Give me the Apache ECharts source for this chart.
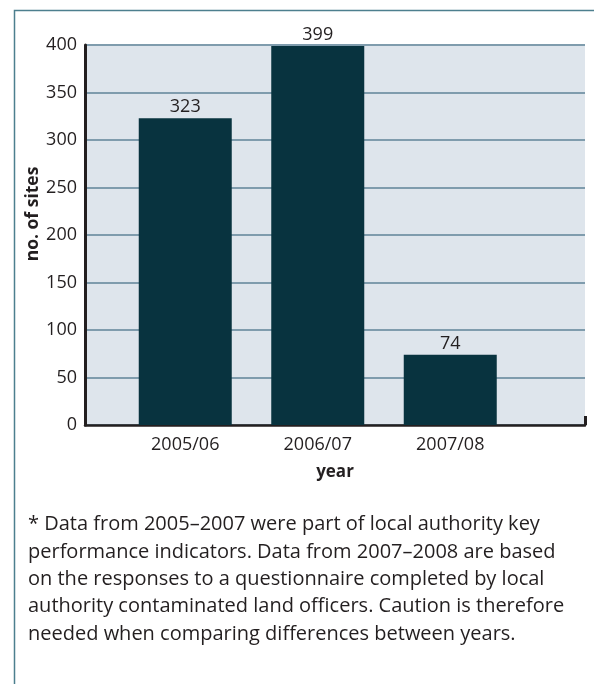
<!DOCTYPE html>
<html>
<head>
<meta charset="utf-8">
<script src="https://cdn.jsdelivr.net/npm/echarts@6/dist/echarts.min.js"></script>
<style>
html,body{margin:0;padding:0;background:#fff;}
#chart{width:594px;height:684px;}
</style>
</head>
<body>
<div id="chart"></div>
<script>
const categories = ['2005/06', '2006/07', '2007/08'];
const sites = [323, 399, 74];
const yTicks = { min: 0, max: 400, interval: 50 };
const yName = 'no. of sites';
const xName = 'year';
const footnote = [
  '* Data from 2005\u20132007 were part of local authority key',
  'performance indicators. Data from 2007\u20132008 are based',
  'on the responses to a questionnaire completed by local',
  'authority contaminated land officers. Caution is therefore',
  'needed when comparing differences between years.'
];

const FONT = '"Open Sans", "Noto Sans", sans-serif';
const TXT = '#231f20';
const chart = echarts.init(document.getElementById('chart'), null, { renderer: 'canvas' });
chart.setOption({
  animation: false,
  backgroundColor: '#ffffff',
  textStyle: { fontFamily: FONT, color: TXT },
  grid: [
    { left: 85, top: 45, width: 500, height: 380, show: true, backgroundColor: '#dee5ec', borderWidth: 0 },
    { left: 119, top: 45, width: 397.5, height: 380, show: false }
  ],
  xAxis: [
    {
      type: 'value', gridIndex: 0, min: 0, max: 1, interval: 1,
      name: xName, nameLocation: 'middle', nameGap: 39,
      nameTextStyle: { fontFamily: FONT, fontSize: 17, fontWeight: 'bold', color: TXT },
      axisLine: { show: true, lineStyle: { color: TXT, width: 2.5 } },
      axisTick: { show: true, inside: true, length: 9, lineStyle: { color: TXT, width: 3 } },
      axisLabel: { show: false },
      splitLine: { show: false }
    },
    {
      type: 'category', gridIndex: 1, data: categories,
      axisLine: { show: false }, axisTick: { show: false },
      axisLabel: { fontFamily: FONT, fontSize: 18, color: TXT, margin: 11 },
      splitLine: { show: false }
    }
  ],
  yAxis: [
    {
      type: 'value', gridIndex: 0, min: yTicks.min, max: yTicks.max, interval: yTicks.interval,
      axisLine: { show: true, lineStyle: { color: TXT, width: 3 } },
      axisTick: { show: false },
      axisLabel: { fontFamily: FONT, fontSize: 18, color: TXT, margin: 8 },
      splitLine: { show: true, lineStyle: { color: '#7f9cad', width: 2 } }
    },
    {
      type: 'value', gridIndex: 1, min: yTicks.min, max: yTicks.max, interval: yTicks.interval,
      show: false, splitLine: { show: false }
    }
  ],
  series: [{
    type: 'bar', xAxisIndex: 1, yAxisIndex: 1,
    data: sites, barWidth: 93,
    itemStyle: { color: '#08333f' },
    label: { show: true, position: 'top', distance: 2, fontFamily: FONT, fontSize: 18, color: TXT }
  }],
  graphic: [
    {
      type: 'rect', left: 12, top: 8, silent: true, z: -1,
      shape: { x: 0, y: 0, width: 800, height: 900 },
      style: { fill: 'none', stroke: '#4d7f8e', lineWidth: 1.5 }
    },
    {
      type: 'text', x: 33, y: 214, rotation: Math.PI / 2,
      style: { text: yName, fontFamily: FONT, fontSize: 17.5, fontWeight: 'bold', fill: TXT, align: 'center', verticalAlign: 'middle' }
    },
    {
      type: 'text', x: 28, y: 511,
      style: { text: footnote.join('\n'), fontFamily: FONT, fontSize: 20, lineHeight: 27.3, fill: TXT, align: 'left', verticalAlign: 'top' }
    }
  ]
});
</script>
</body>
</html>
